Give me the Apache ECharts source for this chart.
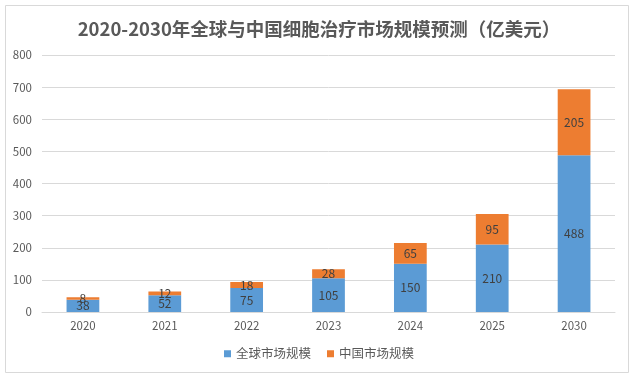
<!DOCTYPE html>
<html><head><meta charset="utf-8">
<script src="https://cdn.jsdelivr.net/npm/echarts@6/dist/echarts.min.js"></script>
<style>html,body{margin:0;padding:0;background:#fff}#c{width:638px;height:382px}</style>
</head><body><div id="c"></div>
<script>
var categories = ['2020','2021','2022','2023','2024','2025','2030'];
var globalValues = [38, 52, 75, 105, 150, 210, 488];
var chinaValues = [8, 12, 18, 28, 65, 95, 205];
var seriesNames = ['全球市场规模', '中国市场规模'];
var titleText = '2020-2030年全球与中国细胞治疗市场规模预测（亿美元）';

var chart = echarts.init(document.getElementById('c'), null, {renderer:'canvas'});
var font = '"Noto Sans CJK SC", "Noto Sans", sans-serif';
var labelStyle = {show:true, position:'inside', color:'#404040', fontSize:12, fontFamily:font};
chart.setOption({
  animation:false,
  backgroundColor:'#fff',
  graphic:[{type:'rect', shape:{x:5.5,y:5.5,width:623,height:367}, style:{fill:'none', stroke:'#d9d9d9', lineWidth:1}, silent:true}],
  title:{text:titleText, left:'center', top:15, textStyle:{fontSize:18.5, fontWeight:'bold', color:'#595959', fontFamily:font}},
  legend:{data:seriesNames, bottom:17, left:'center', itemWidth:7, itemHeight:7, itemGap:16, icon:'rect',
    textStyle:{fontSize:12.5, color:'#595959', fontFamily:font}},
  grid:{left:42, right:23, top:55, bottom:70, containLabel:false},
  xAxis:{type:'category', data:categories,
    axisLine:{lineStyle:{color:'#d9d9d9'}}, axisTick:{show:false},
    axisLabel:{color:'#595959', fontSize:11.5, margin:8, fontFamily:font}},
  yAxis:{type:'value', min:0, max:800, interval:100,
    axisLine:{show:false}, axisTick:{show:false},
    splitLine:{lineStyle:{color:'#d9d9d9'}},
    axisLabel:{color:'#595959', fontSize:11.5, margin:10, fontFamily:font}},
  series:[
    {name:seriesNames[0], type:'bar', stack:'a', data:globalValues, barWidth:'40%', itemStyle:{color:'#5B9BD5'}, label:labelStyle},
    {name:seriesNames[1], type:'bar', stack:'a', data:chinaValues, barWidth:'40%', itemStyle:{color:'#ED7D31'}, label:labelStyle}
  ]
});
</script></body></html>
